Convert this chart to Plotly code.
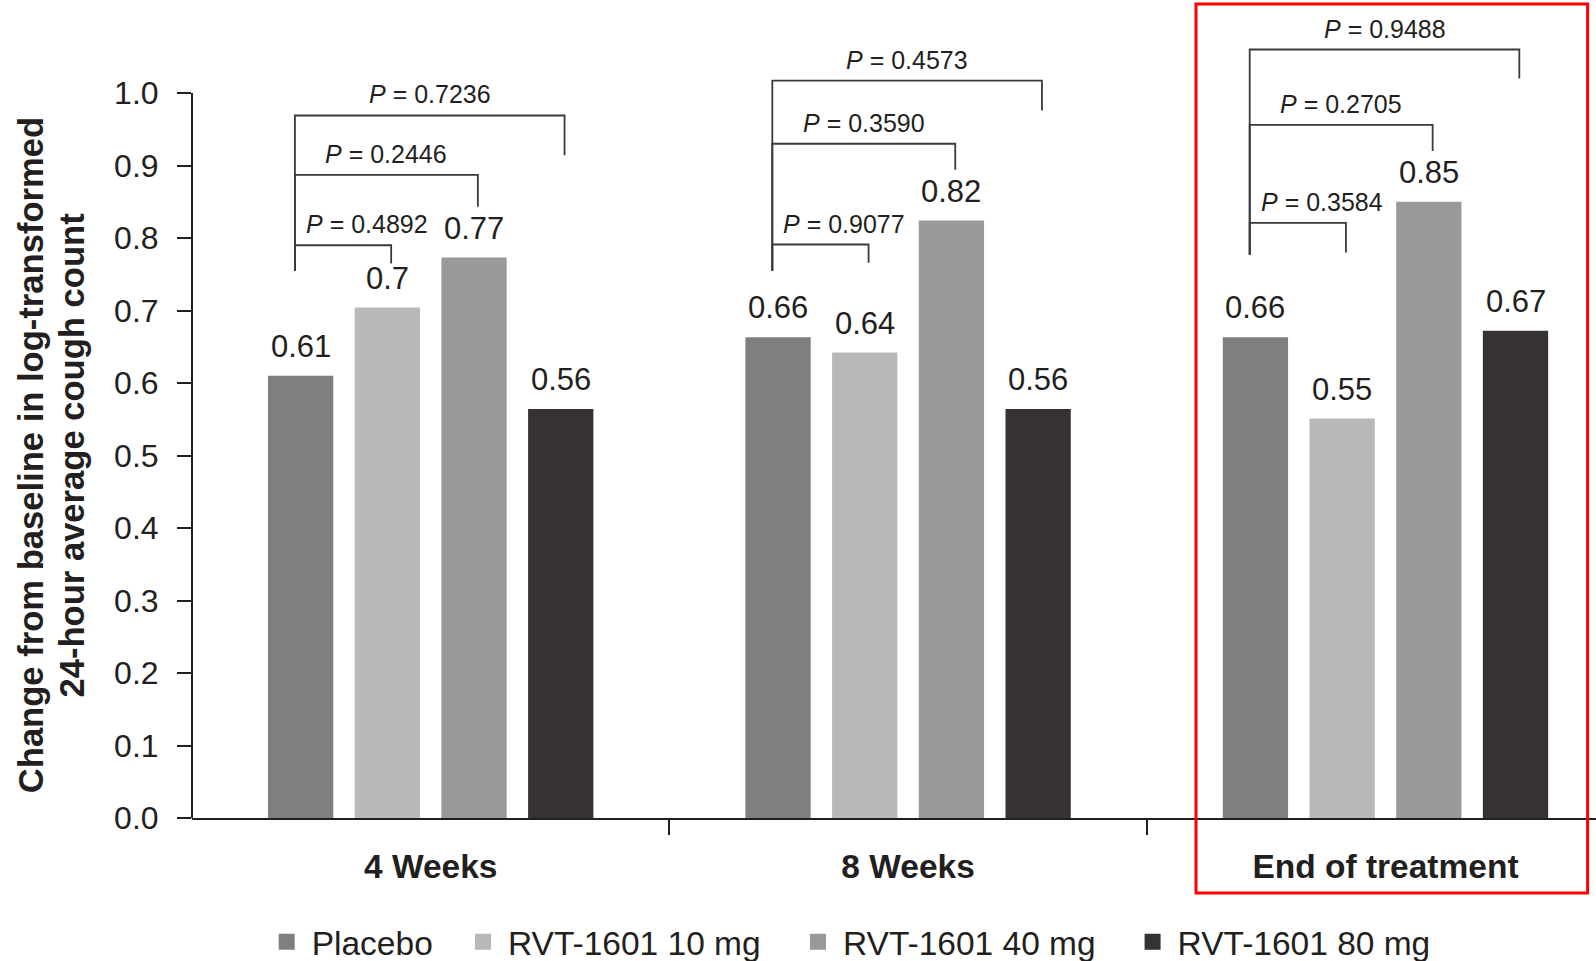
import plotly.graph_objects as go

# ---------------- data ----------------
categories = ["4 Weeks", "8 Weeks", "End of treatment"]
series_names = ["Placebo", "RVT-1601 10 mg", "RVT-1601 40 mg", "RVT-1601 80 mg"]
placebo = [0.610, 0.663, 0.663]
rvt_10 = [0.704, 0.642, 0.551]
rvt_40 = [0.773, 0.824, 0.850]
rvt_80 = [0.564, 0.564, 0.672]
placebo_labels = ["0.61", "0.66", "0.66"]
rvt_10_labels = ["0.7", "0.64", "0.55"]
rvt_40_labels = ["0.77", "0.82", "0.85"]
rvt_80_labels = ["0.56", "0.56", "0.67"]
y_tick_values = [0.0, 0.1, 0.2, 0.3, 0.4, 0.5, 0.6, 0.7, 0.8, 0.9, 1.0]
y_tick_labels = ["0.0", "0.1", "0.2", "0.3", "0.4", "0.5", "0.6", "0.7", "0.8", "0.9", "1.0"]

# P-value comparisons vs placebo: target series index, p text
p_targets = [1, 2, 3]
p_values_4wk = ["0.4892", "0.2446", "0.7236"]
p_values_8wk = ["0.9077", "0.3590", "0.4573"]
p_values_eot = ["0.3584", "0.2705", "0.9488"]

# ---------------- style ----------------
colors = ["#807e7f", "#b8b8b8", "#9a9899", "#363233"]
TXT = "#231f20"
LINE = "#3a3a3a"
FONT = "Liberation Sans, Arial, Helvetica, sans-serif"
BARGAP = 0.2736
BARGROUPGAP = 0.247
pitch = (1 - BARGAP) / 4

# bracket geometry (y levels in data units: horizontal, right drop end) and left foot per group
bracket_levels = [
    [(0.790, 0.765), (0.887, 0.843), (0.969, 0.914)],
    [(0.791, 0.766), (0.930, 0.894), (1.017, 0.976)],
    [(0.821, 0.780), (0.956, 0.920), (1.060, 1.020)],
]
left_foot = [0.755, 0.755, 0.777]

series_vals = [placebo, rvt_10, rvt_40, rvt_80]
series_labels = [placebo_labels, rvt_10_labels, rvt_40_labels, rvt_80_labels]
p_all = [p_values_4wk, p_values_8wk, p_values_eot]
x_idx = list(range(len(categories)))

fig = go.Figure()
for k, (name, vals) in enumerate(zip(series_names, series_vals)):
    fig.add_trace(go.Bar(x=x_idx, y=vals, name=name, marker=dict(color=colors[k], line=dict(width=0)),
                         showlegend=False, hoverinfo="skip"))

# legend entries (square markers), each in its own legend so spacing matches
legend_sq_px = [286.7, 483.0, 818.0, 1152.6]
legend_keys = ["legend", "legend2", "legend3", "legend4"]
for k, name in enumerate(series_names):
    fig.add_trace(go.Scatter(x=[None], y=[None], mode="markers", name=name,
                             marker=dict(symbol="square", size=17, color=colors[k]),
                             legend=legend_keys[k], showlegend=True))

W, H = 1596, 961
ML, MR, MT, MB = 192, 0, 0, 143
plot_w = W - ML - MR
plot_h = H - MT - MB

annotations = []
shapes = []

# value labels
for k in range(4):
    for i in x_idx:
        xc = i + (k - 1.5) * pitch
        annotations.append(dict(x=xc, y=series_vals[k][i], xref="x", yref="y", text=series_labels[k][i],
                                showarrow=False, yanchor="bottom", xanchor="center", yshift=10,
                                font=dict(family=FONT, size=31, color=TXT)))

# brackets
for i in x_idx:
    xl = i + (0 - 1.5) * pitch - 0.012
    for j, kt in enumerate(p_targets):
        top, rb = bracket_levels[i][j]
        xr = i + (kt - 1.5) * pitch + 0.008
        path = f"M {xl},{left_foot[i]} L {xl},{top} L {xr},{top} L {xr},{rb}"
        shapes.append(dict(type="path", path=path, xref="x", yref="y",
                           line=dict(color=LINE, width=1.8), layer="above"))
        if j == 0:
            annotations.append(dict(x=xl + 0.019, y=top, xref="x", yref="y", xanchor="left", yanchor="bottom",
                                    text=f"<i>P</i> = {p_all[i][j]}", showarrow=False, yshift=5,
                                    font=dict(family=FONT, size=25, color=TXT)))
        else:
            annotations.append(dict(x=(xl + xr) / 2, y=top, xref="x", yref="y", xanchor="center", yanchor="bottom",
                                    text=f"<i>P</i> = {p_all[i][j]}", showarrow=False, yshift=5,
                                    font=dict(family=FONT, size=25, color=TXT)))

# y-axis line only from 0 to 1
shapes.append(dict(type="line", xref="paper", yref="y", x0=0, x1=0, y0=0, y1=1.0,
                   line=dict(color=TXT, width=2)))

# red highlight box around End of treatment
shapes.append(dict(type="rect", xref="paper", yref="paper",
                   x0=(1196 - ML) / plot_w, x1=(1587.6 - ML) / plot_w,
                   y0=(plot_h - (893 - MT)) / plot_h, y1=(plot_h - (4 - MT)) / plot_h,
                   line=dict(color="#ff0000", width=3), fillcolor="rgba(0,0,0,0)"))

# y-axis title (two lines)
ty = (plot_h - (455 - MT)) / plot_h
annotations.append(dict(x=(31.2 - ML) / plot_w, y=ty, xref="paper", yref="paper", textangle=-90,
                        text="<b>Change from baseline in log-transformed</b>", showarrow=False,
                        xanchor="center", yanchor="middle", font=dict(family=FONT, size=34.6, color=TXT)))
annotations.append(dict(x=(71.5 - ML) / plot_w, y=ty, xref="paper", yref="paper", textangle=-90,
                        text="<b>24-hour average cough count</b>", showarrow=False,
                        xanchor="center", yanchor="middle", font=dict(family=FONT, size=34.6, color=TXT)))

legend_y = (plot_h - (942 - MT)) / plot_h
legend_layouts = {}
for k, key in enumerate(legend_keys):
    legend_layouts[key] = dict(x=(legend_sq_px[k] - 25 - ML) / plot_w, xanchor="left",
                               y=legend_y, yanchor="middle", orientation="h", itemwidth=40,
                               font=dict(family=FONT, size=33.5, color=TXT), bgcolor="rgba(0,0,0,0)",
                               borderwidth=0)

fig.update_layout(
    width=W, height=H, autosize=False,
    margin=dict(l=ML, r=MR, t=MT, b=MB, pad=0, autoexpand=False),
    paper_bgcolor="white", plot_bgcolor="white",
    barmode="group", bargap=BARGAP, bargroupgap=BARGROUPGAP,
    xaxis=dict(range=[-0.5, 2.441], tickmode="array", tickvals=x_idx, ticktext=categories,
               ticks="", showline=True, linecolor=TXT, linewidth=2, showgrid=False, zeroline=False,
               tickfont=dict(family=FONT, size=33.5, color=TXT, weight="bold"), ticklabelstandoff=18,
               minor=dict(tickmode="array", tickvals=[0.5, 1.5], ticks="outside", ticklen=15,
                          tickwidth=1.5, tickcolor=TXT)),
    yaxis=dict(range=[0, plot_h / 725.0], tickmode="array", tickvals=y_tick_values, ticktext=y_tick_labels,
               ticks="outside", ticklen=14, tickwidth=1.5, tickcolor=TXT, showline=False,
               showgrid=False, zeroline=False, ticklabelstandoff=12,
               tickfont=dict(family=FONT, size=32, color=TXT)),
    annotations=annotations, shapes=shapes,
    **legend_layouts,
)

fig.write_html("out.html")
